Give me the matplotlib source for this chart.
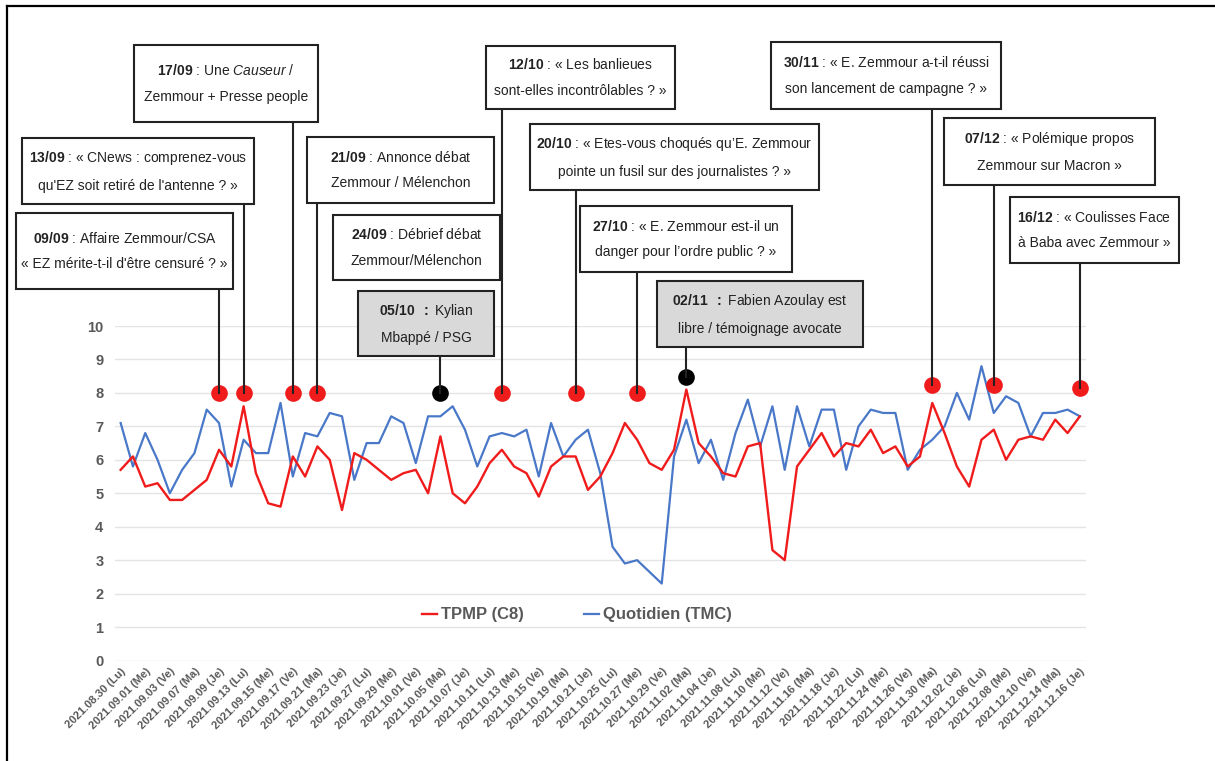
import numpy as np
import pandas as pd
import matplotlib
matplotlib.use("Agg")
import matplotlib.pyplot as plt
from matplotlib import font_manager
from matplotlib.patches import Rectangle
from matplotlib.lines import Line2D

# police étroite si dispo (proche de la police du visuel d'origine)
have = {f.name for f in font_manager.fontManager.ttflist}
NARROW = "Liberation Sans Narrow" in have
FAM = "Liberation Sans Narrow" if NARROW else "Liberation Sans"
plt.rcParams["font.family"] = [FAM, "DejaVu Sans"]
plt.rcParams["mathtext.fontset"] = "custom"
plt.rcParams["mathtext.rm"] = FAM
plt.rcParams["mathtext.bf"] = FAM + ":bold"
plt.rcParams["mathtext.it"] = FAM + ":italic"

# ---- données ----
dates = pd.bdate_range("2021-08-30", "2021-12-16")
JOURS = ["Lu", "Ma", "Me", "Je", "Ve"]

tpmp = [5.7, 6.1, 5.2, 5.3, 4.8, 4.8, 5.1, 5.4, 6.3, 5.8,
        7.6, 5.6, 4.7, 4.6, 6.1, 5.5, 6.4, 6.0, 4.5, 6.2,
        6.0, 5.7, 5.4, 5.6, 5.7, 5.0, 6.7, 5.0, 4.7, 5.2,
        5.9, 6.3, 5.8, 5.6, 4.9, 5.8, 6.1, 6.1, 5.1, 5.5,
        6.2, 7.1, 6.6, 5.9, 5.7, 6.3, 8.1, 6.5, 6.1, 5.6,
        5.5, 6.4, 6.5, 3.3, 3.0, 5.8, 6.3, 6.8, 6.1, 6.5,
        6.4, 6.9, 6.2, 6.4, 5.8, 6.1, 7.7, 6.8, 5.8, 5.2,
        6.6, 6.9, 6.0, 6.6, 6.7, 6.6, 7.2, 6.8, 7.3]

quotidien = [7.1, 5.8, 6.8, 6.0, 5.0, 5.7, 6.2, 7.5, 7.1, 5.2,
             6.6, 6.2, 6.2, 7.7, 5.5, 6.8, 6.7, 7.4, 7.3, 5.4,
             6.5, 6.5, 7.3, 7.1, 5.9, 7.3, 7.3, 7.6, 6.9, 5.8,
             6.7, 6.8, 6.7, 6.9, 5.5, 7.1, 6.1, 6.6, 6.9, 5.6,
             3.4, 2.9, 3.0, 2.65, 2.3, 6.1, 7.2, 5.9, 6.6, 5.4,
             6.8, 7.8, 6.4, 7.6, 5.7, 7.6, 6.4, 7.5, 7.5, 5.7,
             7.0, 7.5, 7.4, 7.4, 5.7, 6.3, 6.6, 7.0, 8.0, 7.2,
             8.8, 7.4, 7.9, 7.7, 6.7, 7.4, 7.4, 7.5, 7.3]

event_dates = ["2021-09-09", "2021-09-13", "2021-09-17", "2021-09-21", "2021-10-05",
               "2021-10-12", "2021-10-20", "2021-10-27", "2021-11-02", "2021-11-30",
               "2021-12-07", "2021-12-16"]
event_level = [8.0, 8.0, 8.0, 8.0, 8.0, 8.0, 8.0, 8.0, 8.47, 8.25, 8.25, 8.15]
event_kind = ["rouge", "rouge", "rouge", "rouge", "noir", "rouge",
              "rouge", "rouge", "noir", "rouge", "rouge", "rouge"]

box_text = [
    r"$\bf{09/09}$ : Affaire Zemmour/CSA" "\n" "« EZ mérite-t-il d'être censuré ? »",
    r"$\bf{13/09}$ : « CNews : comprenez-vous" "\n" "qu'EZ soit retiré de l'antenne ? »",
    r"$\bf{17/09}$ : Une $\it{Causeur}$ /" "\n" "Zemmour + Presse people",
    r"$\bf{21/09}$ : Annonce débat" "\n" "Zemmour / Mélenchon",
    r"$\bf{24/09}$ : Débrief débat" "\n" "Zemmour/Mélenchon",
    r"$\bf{05/10\ \ :}$ Kylian" "\n" "Mbappé / PSG",
    r"$\bf{12/10}$ : « Les banlieues" "\n" "sont-elles incontrôlables ? »",
    r"$\bf{20/10}$ : « Etes-vous choqués qu’E. Zemmour" "\n" "pointe un fusil sur des journalistes ? »",
    r"$\bf{27/10}$ : « E. Zemmour est-il un" "\n" "danger pour l’ordre public ? »",
    r"$\bf{02/11\ \ :}$ Fabien Azoulay est" "\n" "libre / témoignage avocate",
    r"$\bf{30/11}$ : « E. Zemmour a-t-il réussi" "\n" "son lancement de campagne ? »",
    r"$\bf{07/12}$ : « Polémique propos" "\n" "Zemmour sur Macron »",
    r"$\bf{16/12}$ : « Coulisses Face" "\n" "à Baba avec Zemmour »",
]
# quel évènement (point) chaque encadré désigne ; None = pas de trait
box_event = [0, 1, 2, 3, None, 4, 5, 6, 7, 8, 9, 10, 11]

# mise en page des encadrés, en pixels image (x0, y0, x1, y1)
box_px = [
    (16, 213, 233, 289), (22, 138, 254, 204), (134, 45, 318, 122),
    (307, 137, 494, 203), (333, 215, 500, 280), (358, 291, 494, 356),
    (486, 46, 675, 109), (530, 124, 819, 190), (580, 206, 792, 272),
    (657, 281, 863, 347), (771, 42, 1001, 109), (944, 118, 1155, 185),
    (1010, 197, 1179, 263),
]

W, H = 1215, 761
RED = "#f01c1c"
BLUE = "#4a78c8"
GRAY = "#595959"
BOX_FS = 11 if NARROW else 10

labels = [f"{d:%Y.%m.%d} ({JOURS[d.weekday()]})" for d in dates]
x = np.arange(len(dates))
ev_idx = [dates.get_loc(pd.Timestamp(d)) for d in event_dates]

fig = plt.figure(figsize=(W / 100, H / 100), dpi=100)
ax = fig.add_axes([114.5 / W, (H - 660.5) / H, (1086 - 114.5) / W, (660.5 - 326) / H])

ax.plot(x, tpmp, color=RED, lw=1.7, label="TPMP (C8)", zorder=3)
ax.plot(x, quotidien, color=BLUE, lw=1.6, label="Quotidien (TMC)", zorder=2)

ax.set_xlim(-0.5, len(dates) - 0.5)
ax.set_ylim(0, 10)
ax.set_yticks(range(0, 11))
ax.grid(axis="y", color="#e4e4e4", lw=1)
ax.set_axisbelow(True)
for s in ax.spines.values():
    s.set_visible(False)
ax.tick_params(length=0)
ax.tick_params(axis="y", pad=8, labelsize=10.5, labelcolor=GRAY)
ax.set_xticks(x[::2])
ax.set_xticklabels(labels[::2], rotation=45, ha="right", rotation_mode="anchor",
                   fontsize=8, color=GRAY, fontweight="bold")
ax.tick_params(axis="x", pad=4)
for t in ax.get_yticklabels():
    t.set_fontweight("bold")

# points d'évènements
for i, lv, k in zip(ev_idx, event_level, event_kind):
    ax.plot(i, lv, "o", ms=12, mew=0, color=RED if k == "rouge" else "black",
            clip_on=False, zorder=5)

# encadrés + traits
to_fig = lambda xy: fig.transFigure.inverted().transform(ax.transData.transform(xy))
for (x0, y0, x1, y1), txt, ev in zip(box_px, box_text, box_event):
    gray = ev is not None and event_kind[ev] == "noir"
    fig.add_artist(Rectangle((x0 / W, 1 - y1 / H), (x1 - x0) / W, (y1 - y0) / H,
                             transform=fig.transFigure, fc="#d9d9d9" if gray else "white",
                             ec="#222222", lw=1.5, zorder=4))
    fig.text((x0 + x1) / 2 / W, 1 - (y0 + y1) / 2 / H, txt, ha="center", va="center",
             fontsize=BOX_FS, linespacing=2.05, color="#222222", zorder=5)
    if ev is not None:
        fx, fy = to_fig((ev_idx[ev], event_level[ev]))
        fig.add_artist(Line2D([fx, fx], [fy, 1 - y1 / H], transform=fig.transFigure,
                              color="#222222", lw=1.5, zorder=3))

leg = ax.legend(loc="center", bbox_to_anchor=(577 / W, 1 - 615 / H),
                bbox_transform=fig.transFigure, ncol=2, frameon=False,
                handlelength=0.9, handletextpad=0.25, columnspacing=3.6,
                prop={"weight": "bold", "size": 12})
for t in leg.get_texts():
    t.set_color(GRAY)

# cadre (haut et gauche seulement visibles)
fig.add_artist(Line2D([7 / W, 1], [1 - 6 / H, 1 - 6 / H], transform=fig.transFigure, color="black", lw=1.6))
fig.add_artist(Line2D([7 / W, 7 / W], [0, 1 - 6 / H], transform=fig.transFigure, color="black", lw=1.6))

fig.savefig("out.png", dpi=100)
